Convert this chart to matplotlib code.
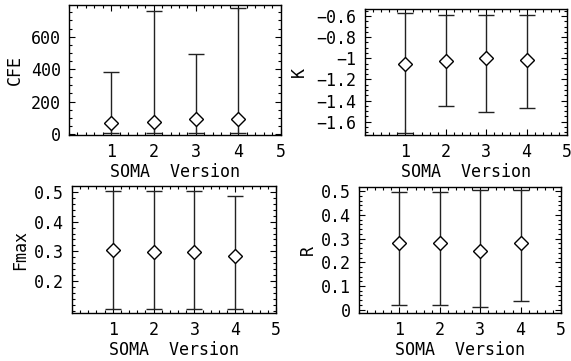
import matplotlib
matplotlib.use("Agg")
import matplotlib.pyplot as plt
from matplotlib.ticker import MultipleLocator

plt.rcParams['font.family'] = ['DejaVu Sans Mono']
plt.rcParams['font.size'] = 12

versions = [1, 2, 3, 4]

cfe_mean = [66, 76, 91, 91]
cfe_lo = [4, 4, 4, 4]
cfe_hi = [384, 760, 491, 775]

k_mean = [-1.054, -1.023, -1.0, -1.019]
k_lo = [-1.71, -1.451, -1.505, -1.468]
k_hi = [-0.569, -0.59, -0.59, -0.59]

fmax_mean = [0.306, 0.298, 0.298, 0.286]
fmax_lo = [0.108, 0.108, 0.108, 0.108]
fmax_hi = [0.503, 0.503, 0.503, 0.486]

r_mean = [0.28, 0.28, 0.247, 0.28]
r_lo = [0.018, 0.018, 0.011, 0.035]
r_hi = [0.496, 0.496, 0.507, 0.505]

W, H = 571, 361
fig = plt.figure(figsize=(W / 100, H / 100), dpi=100)


def make_axes(x0, x1, top, bottom):
    return fig.add_axes([x0 / W, 1 - bottom / H, (x1 - x0) / W, (bottom - top) / H])


def panel(ax, mean, lo, hi, ylabel, ylim, yticks, yticklabels, yminor, ylab_px):
    yerr = [[m - l for m, l in zip(mean, lo)], [h - m for m, h in zip(mean, hi)]]
    ax.errorbar(versions, mean, yerr=yerr, fmt='D', ms=7, mfc='white', mec='black',
                mew=1, ecolor='#222222', elinewidth=1, capsize=5.5, capthick=1)
    ax.set_xlim(0, 5)
    ax.set_ylim(*ylim)
    ax.set_xticks([1, 2, 3, 4, 5])
    ax.xaxis.set_minor_locator(MultipleLocator(0.2))
    ax.set_yticks(yticks)
    ax.set_yticklabels(yticklabels)
    ax.yaxis.set_minor_locator(MultipleLocator(yminor))
    ax.tick_params(which='both', direction='in', top=True, right=True, width=0.8)
    ax.tick_params(which='major', length=4, pad=6)
    ax.tick_params(which='minor', length=2)
    for s in ax.spines.values():
        s.set_linewidth(1)
    ax.set_xlabel('SOMA  Version', labelpad=1)
    ax.set_ylabel(ylabel, va='center')
    # place the y label by pixel column
    x0 = ax.get_position().x0 * W
    w = ax.get_position().width * W
    ax.yaxis.set_label_coords((ylab_px - x0) / w, 0.5)


ax1 = make_axes(69, 280.5, 5, 135)
panel(ax1, cfe_mean, cfe_lo, cfe_hi, 'CFE', (-6, 795),
      [0, 200, 400, 600], ['0', '200', '400', '600'], 50, 15)

ax2 = make_axes(365, 567, 9, 135)
panel(ax2, k_mean, k_lo, k_hi, 'K', (-1.726, -0.534),
      [-0.6, -0.8, -1.0, -1.2, -1.4, -1.6],
      ['\u22120.6', '\u22120.8', '\u22121', '\u22121.2', '\u22121.4', '\u22121.6'], 0.05, 299)

ax3 = make_axes(72, 276, 186, 313)
panel(ax3, fmax_mean, fmax_lo, fmax_hi, 'Fmax', (0.094, 0.519),
      [0.2, 0.3, 0.4, 0.5], ['0.2', '0.3', '0.4', '0.5'], 0.02, 20)

ax4 = make_axes(359, 561, 187, 313)
panel(ax4, r_mean, r_lo, r_hi, 'R', (-0.014, 0.518),
      [0, 0.1, 0.2, 0.3, 0.4, 0.5], ['0', '0.1', '0.2', '0.3', '0.4', '0.5'], 0.02, 308)

fig.savefig('out.png', dpi=100)
